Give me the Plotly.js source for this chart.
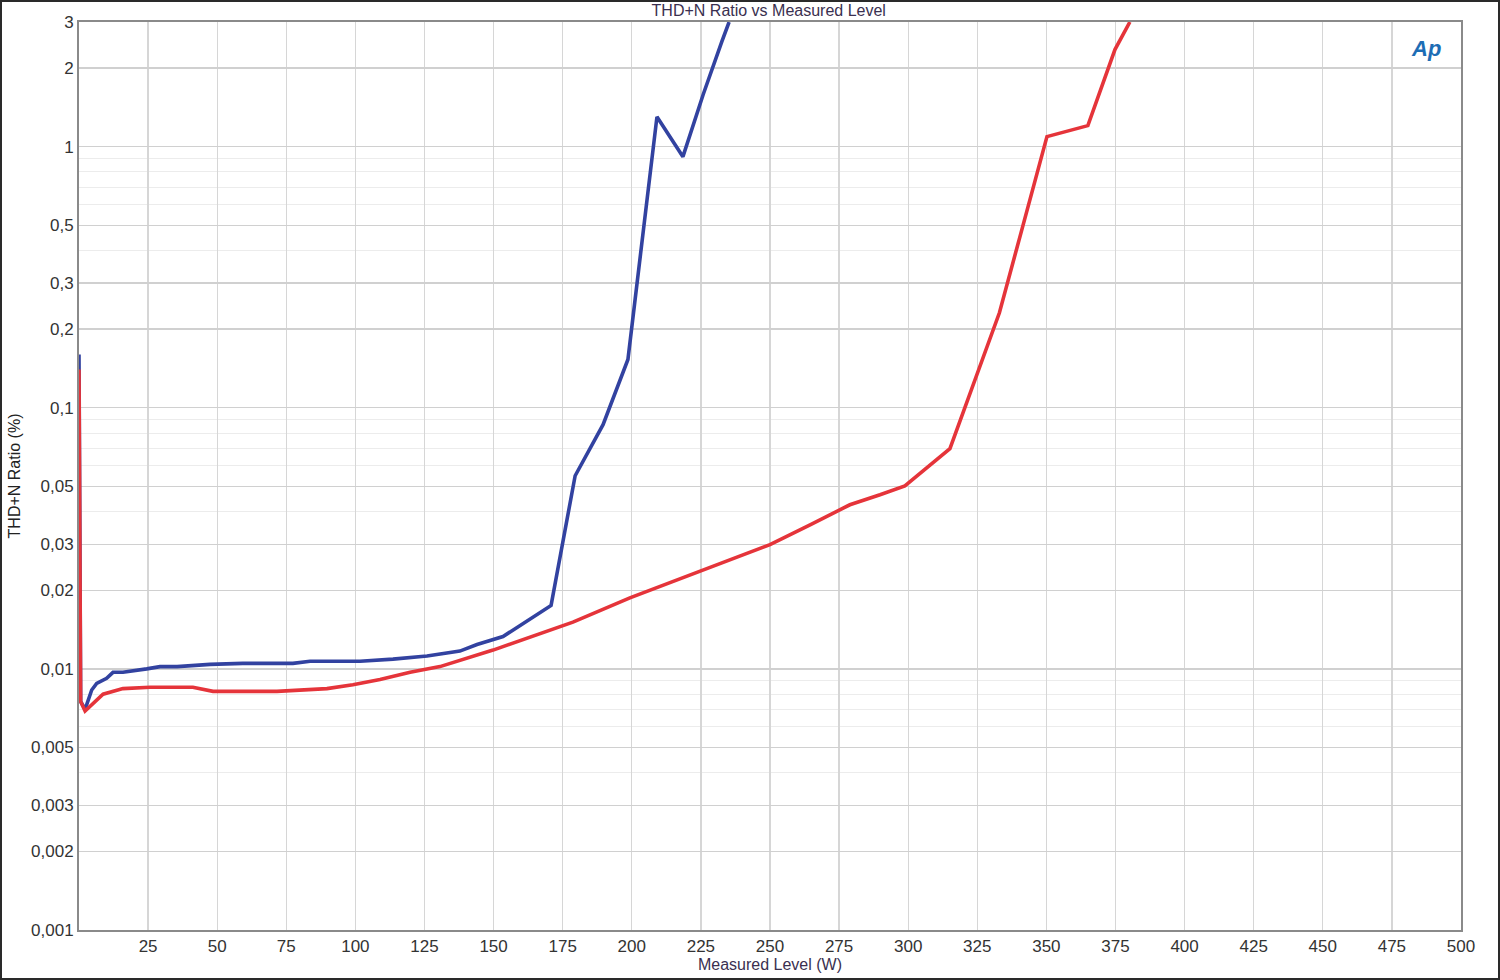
<!DOCTYPE html>
<html>
<head>
<meta charset="utf-8">
<script src="https://cdn.plot.ly/plotly-3.0.1.min.js"></script>
<style>
html,body{margin:0;padding:0;background:#fff;}
#wrap{position:relative;width:1500px;height:980px;}
#chart{width:1500px;height:980px;}
#frame{position:absolute;left:0;top:0;width:1500px;height:980px;box-sizing:border-box;border:2px solid #2a2a2a;pointer-events:none;}
</style>
</head>
<body>
<div id="wrap"><div id="chart"></div><div id="frame"></div></div>
<script>
// Blue channel
const blueX = [0, 0.6, 2.2, 4.6, 6.4, 10, 12.3, 15.9, 24.5, 29.3, 35.5, 47.4, 59.3, 77.4, 83.6, 101.7, 113.6, 125.9, 137.8, 144, 153.4, 170.8, 179.5, 189.6, 198.6, 209.1, 218.5, 225.8, 232.6, 235.2];
const blueY = [0.16, 0.0075, 0.0070, 0.0083, 0.0088, 0.0092, 0.0097, 0.0097, 0.0100, 0.0102, 0.0102, 0.0104, 0.0105, 0.0105, 0.0107, 0.0107, 0.0109, 0.0112, 0.0117, 0.0124, 0.0133, 0.0175, 0.0549, 0.0861, 0.153, 1.30, 0.915, 1.58, 2.53, 3.0];
// Red channel
const redX = [0, 0.6, 2.2, 5.1, 8.7, 15.9, 25.7, 41.2, 48.5, 71.6, 89.7, 99.1, 108.9, 119.8, 130.6, 149.8, 174, 178.7, 199.3, 224.7, 250, 264.5, 278.9, 289.8, 298.8, 315.1, 333, 350.2, 365, 374.8, 380.2];
const redY = [0.14, 0.0075, 0.0069, 0.0074, 0.0080, 0.0084, 0.0085, 0.0085, 0.0082, 0.0082, 0.0084, 0.0087, 0.0091, 0.0097, 0.0102, 0.0118, 0.0145, 0.0151, 0.0187, 0.0237, 0.0299, 0.0356, 0.0425, 0.0464, 0.0502, 0.0697, 0.231, 1.092, 1.203, 2.353, 3.0];

const yTickVals = [0.001, 0.002, 0.003, 0.005, 0.01, 0.02, 0.03, 0.05, 0.1, 0.2, 0.3, 0.5, 1, 2, 3];
const yTickText = ["0,001", "0,002", "0,003", "0,005", "0,01", "0,02", "0,03", "0,05", "0,1", "0,2", "0,3", "0,5", "1", "2", "3"];
const xTickVals = [25, 50, 75, 100, 125, 150, 175, 200, 225, 250, 275, 300, 325, 350, 375, 400, 425, 450, 475, 500];
const xTickText = xTickVals.map(String);

const FONT = "Liberation Sans, Arial, sans-serif";

const traces = [
  {x: blueX, y: blueY, type: 'scatter', mode: 'lines', name: 'Ch1', line: {color: '#3242a0', width: 3.6}},
  {x: redX, y: redY, type: 'scatter', mode: 'lines', name: 'Ch2', line: {color: '#e5343a', width: 3.6}}
];

const layout = {
  width: 1500, height: 980,
  margin: {l: 79, r: 39, t: 22, b: 50},
  paper_bgcolor: '#ffffff', plot_bgcolor: '#ffffff',
  showlegend: false,
  font: {family: FONT, color: '#333', size: 16},
  title: {text: 'THD+N Ratio vs Measured Level', font: {family: FONT, size: 16, color: '#3a3050'},
          x: 0.5125, xanchor: 'center', y: 1 - 10/980, yanchor: 'middle', yref: 'container'},
  xaxis: {
    range: [0, 500], tickvals: xTickVals, ticktext: xTickText,
    showgrid: true, gridcolor: '#d6d6d6', gridwidth: 1.3,
    showline: true, linecolor: '#8a8a8a', linewidth: 2, mirror: true,
    ticks: '', zeroline: false, tickfont: {family: FONT, size: 17, color: '#333'},
    title: {text: 'Measured Level (W)', font: {family: FONT, size: 16, color: '#3a3050'}, standoff: 0}
  },
  yaxis: {
    type: 'log', range: [Math.log10(0.001), Math.log10(3)],
    tickvals: yTickVals, ticktext: yTickText,
    showgrid: true, gridcolor: '#d0d0d0', gridwidth: 1.3,
    minor: {dtick: 'D1', showgrid: true, gridcolor: '#ececec', gridwidth: 1, ticks: ''},
    showline: true, linecolor: '#8a8a8a', linewidth: 2, mirror: true,
    ticks: '', zeroline: false, tickfont: {family: FONT, size: 17, color: '#333'},
    title: {text: 'THD+N Ratio (%)', font: {family: FONT, size: 16, color: '#222'}, standoff: 6}
  },
  annotations: [
    {xref: 'paper', yref: 'paper', x: 0.975, y: 0.971, xanchor: 'center', yanchor: 'middle',
     text: '<b><i>Ap</i></b>', showarrow: false,
     font: {family: FONT, size: 22, color: '#1d6db5'}}
  ]
};

Plotly.newPlot('chart', traces, layout, {displayModeBar: false, staticPlot: true});
</script>
</body>
</html>
